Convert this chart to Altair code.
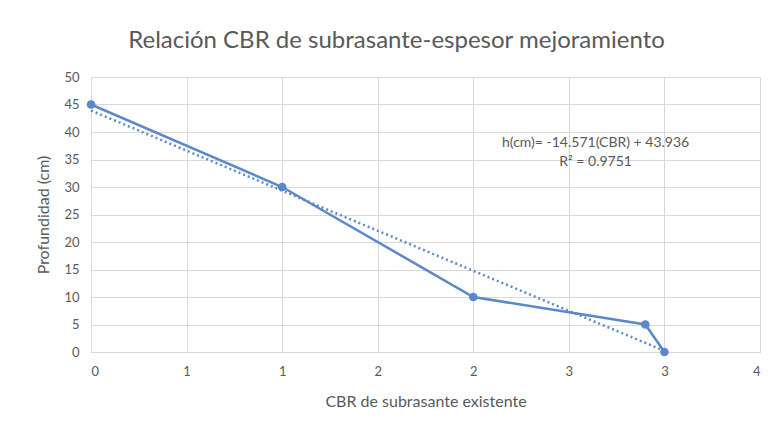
import altair as alt
import pandas as pd

# Data
cbr = [0, 1, 2, 2.9, 3]
depth = [45, 30, 10, 5, 0]

trend_x = [0, 3]
trend_y = [43.9, 0.2]

ann_x = [2.64, 2.64]
ann_y = [38.0, 34.6]
ann_text = ["h(cm)= -14.571(CBR) + 43.936", "R² = 0.9751"]

x_ticks = [0, 0.5, 1, 1.5, 2, 2.5, 3, 3.5]
y_ticks = [0, 5, 10, 15, 20, 25, 30, 35, 40, 45, 50]

BLUE = "#5B88C8"
GRAY = "#595959"
FONT = "Lato"

df = pd.DataFrame({"x": cbr, "y": depth})
tr = pd.DataFrame({"x": trend_x, "y": trend_y})
an = pd.DataFrame({"x": ann_x, "y": ann_y, "t": ann_text})

xs = alt.Scale(domain=[0, 3.5], nice=False, zero=False)
ys = alt.Scale(domain=[0, 50], nice=False)

xax = alt.Axis(values=x_ticks, labelExpr="'' + round(datum.value)",
               title="CBR de subrasante existente", grid=True,
               gridColor="#D9D9D9", domainColor="#D9D9D9", ticks=False,
               labelColor=GRAY, labelFont=FONT, labelFontSize=13, labelPadding=13,
               labelOverlap=False,
               titleColor=GRAY, titleFont=FONT, titleFontSize=16,
               titleFontWeight="normal", titlePadding=15)
yax = alt.Axis(values=y_ticks, title="Profundidad (cm)", grid=True,
               gridColor="#D9D9D9", domain=False, ticks=False,
               labelColor=GRAY, labelFont=FONT, labelFontSize=13, labelPadding=12,
               labelOverlap=False,
               titleColor=GRAY, titleFont=FONT, titleFontSize=16,
               titleFontWeight="normal", titlePadding=12)

trend = alt.Chart(tr).mark_line(color=BLUE, strokeWidth=2.5, strokeDash=[2, 3]).encode(
    x=alt.X("x:Q", scale=xs, axis=xax), y=alt.Y("y:Q", scale=ys, axis=yax)
)
base_line = alt.Chart(df).mark_line(color=BLUE, strokeWidth=2.5).encode(
    x=alt.X("x:Q", scale=xs, axis=xax),
    y=alt.Y("y:Q", scale=ys, axis=yax),
)
pts = alt.Chart(df).mark_point(filled=True, color=BLUE, size=75, opacity=1).encode(
    x=alt.X("x:Q", scale=xs, axis=xax), y=alt.Y("y:Q", scale=ys, axis=yax)
)
txt = alt.Chart(an).mark_text(color=GRAY, font=FONT, fontSize=14, align="center",
                              baseline="middle").encode(
    x=alt.X("x:Q", scale=xs, axis=xax), y=alt.Y("y:Q", scale=ys, axis=yax), text="t:N"
)

chart = alt.layer(trend, base_line, pts, txt).properties(
    width=669, height=275,
    autosize=alt.AutoSizeParams(type="none"),
    padding={"left": 83, "top": 69, "right": 3, "bottom": 60},
    title=alt.TitleParams("Relación CBR de subrasante-espesor mejoramiento",
                          font=FONT, fontSize=24, fontWeight="normal",
                          color=GRAY, anchor="middle", dx=-29, offset=18),
).configure_view(stroke=None).configure(background="white")

chart.save("out.html", embed_options={"renderer": "svg", "actions": False})
